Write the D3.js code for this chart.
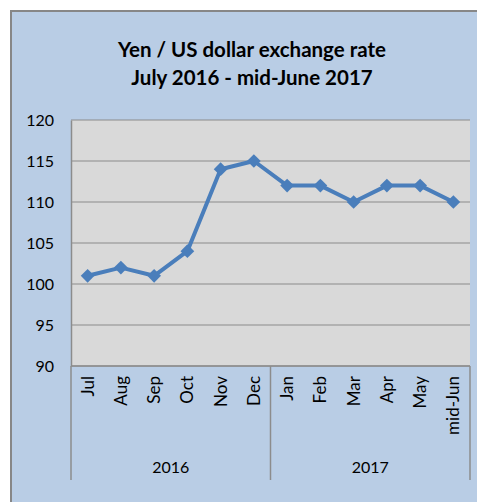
<!DOCTYPE html>
<html>
<head>
<meta charset="utf-8">
<script src="https://cdn.jsdelivr.net/npm/d3@7/dist/d3.min.js"></script>
<style>
  html, body { margin: 0; padding: 0; background: #ffffff; }
  svg { display: block; font-family: Lato, "Liberation Sans", sans-serif; }
</style>
</head>
<body>
<svg id="chart" width="477" height="502"></svg>
<script>
const months = ["Jul","Aug","Sep","Oct","Nov","Dec","Jan","Feb","Mar","Apr","May","mid-Jun"];
const years = ["2016","2016","2016","2016","2016","2016","2017","2017","2017","2017","2017","2017"];
const rates = [101,102,101,104,114,115,112,112,110,112,112,110];
const yTicks = [90,95,100,105,110,115,120];
const titleLines = ["Yen / US dollar exchange rate","July 2016 - mid-June 2017"];

(function(){
const svg = d3.select("#chart");
svg.append("rect").attr("x",11).attr("y",11).attr("width",476).attr("height",500)
  .attr("fill","#b9cde5").attr("stroke","#878787").attr("stroke-width",2);

const pL = 71, pR = 470, pT = 120, pB = 366;
const ids = months.map((m,i)=>i);
const x = d3.scaleBand().domain(ids).range([pL,pR]);
const y = d3.scaleLinear().domain([90,120]).range([pB,pT]);

svg.append("rect").attr("x",pL).attr("y",pT).attr("width",pR-pL).attr("height",pB-pT)
  .attr("fill","#d9d9d9");

svg.append("g").selectAll("line").data(yTicks).join("line")
  .attr("x1",pL).attr("x2",pR).attr("y1",d=>y(d)).attr("y2",d=>y(d))
  .attr("stroke","#8c8c8c").attr("stroke-width",1.2);

const yAxis = d3.axisLeft(y).tickValues(yTicks).tickSize(0).tickPadding(17);
const gy = svg.append("g").attr("transform",`translate(${pL},0)`).call(yAxis);
gy.select(".domain").attr("stroke","#8c8c8c").attr("stroke-width",1.5);
gy.selectAll("text").attr("font-size",16).attr("fill","#000").attr("font-family","Lato, sans-serif");

svg.append("line").attr("x1",pL).attr("x2",pR).attr("y1",pB).attr("y2",pB)
  .attr("stroke","#8c8c8c").attr("stroke-width",1.5);

const xAxis = d3.axisBottom(x).tickFormat(i=>months[i]).tickSize(0);
const gx = svg.append("g").attr("transform",`translate(0,${pB})`).call(xAxis);
gx.select(".domain").remove();
gx.selectAll("text").attr("font-size",17).attr("fill","#000").attr("font-family","Lato, sans-serif")
  .attr("text-anchor","end").attr("x",-10).attr("y",0).attr("dy","0.35em")
  .attr("transform","rotate(-90)");

const groups = Array.from(d3.group(ids, i=>years[i]), ([k,v])=>({k, first:v[0], last:v[v.length-1]}));
const sepX = [pL];
groups.forEach(g=>sepX.push(x(g.last)+x.bandwidth()));
svg.append("g").selectAll("line").data(sepX).join("line")
  .attr("x1",d=>d).attr("x2",d=>d).attr("y1",pB).attr("y2",480)
  .attr("stroke","#8c8c8c").attr("stroke-width",1.5);
svg.append("g").selectAll("text").data(groups).join("text")
  .attr("x",g=>(x(g.first)+x(g.last)+x.bandwidth())/2).attr("y",473)
  .attr("text-anchor","middle").attr("font-size",16).text(g=>g.k);

const cx = i=>x(i)+x.bandwidth()/2;
svg.append("path").datum(ids)
  .attr("d", d3.line().x(cx).y(i=>y(rates[i])))
  .attr("fill","none").attr("stroke","#4a7ebb").attr("stroke-width",4).attr("stroke-linejoin","round");
svg.append("g").selectAll("path").data(ids).join("path")
  .attr("transform",i=>`translate(${cx(i)},${y(rates[i])})`)
  .attr("d", d3.symbol(d3.symbolDiamond2, 120)())
  .attr("fill","#4a7ebb");

svg.append("text").attr("x",252).attr("y",57).attr("text-anchor","middle")
  .attr("font-size",20.5).attr("font-weight","bold").text(titleLines[0]);
svg.append("text").attr("x",252).attr("y",85).attr("text-anchor","middle")
  .attr("font-size",20.5).attr("font-weight","bold").text(titleLines[1]);
})();
</script>
</body>
</html>
